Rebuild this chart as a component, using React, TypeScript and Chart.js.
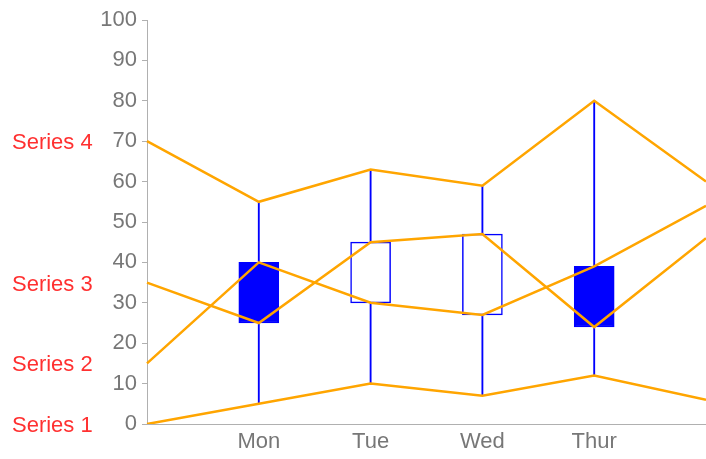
import React, { useEffect, useRef } from "react";
import { Chart, registerables } from "chart.js";

Chart.register(...registerables);

const categories = ["", "Mon", "Tue", "Wed", "Thur", ""];
const seriesNames = ["Series 1", "Series 2", "Series 3", "Series 4"];
const series1 = [0, 5, 10, 7, 12, 6];
const series2 = [15, 40, 30, 27, 39, 54];
const series3 = [35, 25, 45, 47, 24, 46];
const series4 = [70, 55, 63, 59, 80, 60];
const candleIdx = [1, 2, 3, 4];
const yTicksMax = 100;
const yTicksStep = 10;

const allSeries = [series1, series2, series3, series4];

export default function App() {
  const ref = useRef<HTMLCanvasElement | null>(null);
  useEffect(() => {
    document.body.style.margin = "0";
    const ctx = ref.current!.getContext("2d")!;
    const wicks = categories.map((_, i) =>
      candleIdx.includes(i) ? [series1[i], series4[i]] : null
    );
    const boxes = categories.map((_, i) =>
      candleIdx.includes(i) ? [series2[i], series3[i]] : null
    );
    const boxFill = categories.map((_, i) =>
      series2[i] > series3[i] ? "#0000ff" : "#ffffff"
    );
    const family = "'Liberation Sans', Arial, Helvetica, sans-serif";
    const font = { family, size: 22 };
    const labelsPlugin = {
      id: "seriesLabels",
      afterDraw(chart: any) {
        const c = chart.ctx;
        const y = chart.scales.y;
        c.save();
        c.font = `22px ${family}`;
        c.fillStyle = "#ff3030";
        c.textAlign = "left";
        c.textBaseline = "middle";
        allSeries.forEach((s, i) => {
          c.fillText(seriesNames[i], 12, y.getPixelForValue(s[0]) + 2);
        });
        c.restore();
      },
    };
    const chart = new Chart(ctx, {
      type: "line",
      data: {
        labels: categories,
        datasets: [
          ...allSeries.map((s, i) => ({
            type: "line" as const,
            label: seriesNames[i],
            data: s,
            borderColor: "#ffa500",
            borderWidth: 2.5,
            pointRadius: 0,
            pointHoverRadius: 0,
            tension: 0,
            fill: false,
            order: 0,
          })),
          {
            type: "bar" as const,
            label: "box",
            data: boxes as any,
            backgroundColor: boxFill,
            borderColor: "#0000ff",
            borderWidth: 1.5,
            borderSkipped: false,
            barThickness: 40,
            grouped: false,
            order: 1,
          } as any,
          {
            type: "bar" as const,
            label: "wick",
            data: wicks as any,
            backgroundColor: "#0000ff",
            borderWidth: 0,
            barThickness: 1.2,
            grouped: false,
            order: 2,
          } as any,
        ],
      },
      options: {
        animation: false,
        responsive: false,
        maintainAspectRatio: false,
        layout: { autoPadding: false, padding: { left: 0, right: 0, top: 20, bottom: 0 } },
        plugins: { legend: { display: false }, tooltip: { enabled: false } },
        scales: {
          x: {
            type: "category",
            offset: false,
            grid: { display: false, drawTicks: false },
            border: { display: true, color: "#b0b0b0", width: 1 },
            ticks: { color: "#777777", font, padding: 5, autoSkip: false, maxRotation: 0 },
            afterFit(scale: any) {
              scale.height = 35;
              scale.paddingRight = 0;
              scale.paddingLeft = 0;
            },
          },
          y: {
            min: 0,
            max: yTicksMax,
            ticks: { stepSize: yTicksStep, color: "#777777", font, padding: 5 },
            grid: {
              drawOnChartArea: false,
              drawTicks: true,
              tickLength: 5,
              color: "#b0b0b0",
            },
            border: { display: true, color: "#b0b0b0", width: 1 },
            afterFit(scale: any) {
              scale.width = 147;
              scale.paddingTop = 0;
              scale.paddingBottom = 0;
            },
          },
        },
      },
      plugins: [labelsPlugin],
    } as any);
    return () => chart.destroy();
  }, []);
  return (
    <div style={{ position: "fixed", left: 0, top: 0, width: 706, height: 459 }}>
      <canvas ref={ref} width={706} height={459} style={{ width: 706, height: 459 }} />
    </div>
  );
}
